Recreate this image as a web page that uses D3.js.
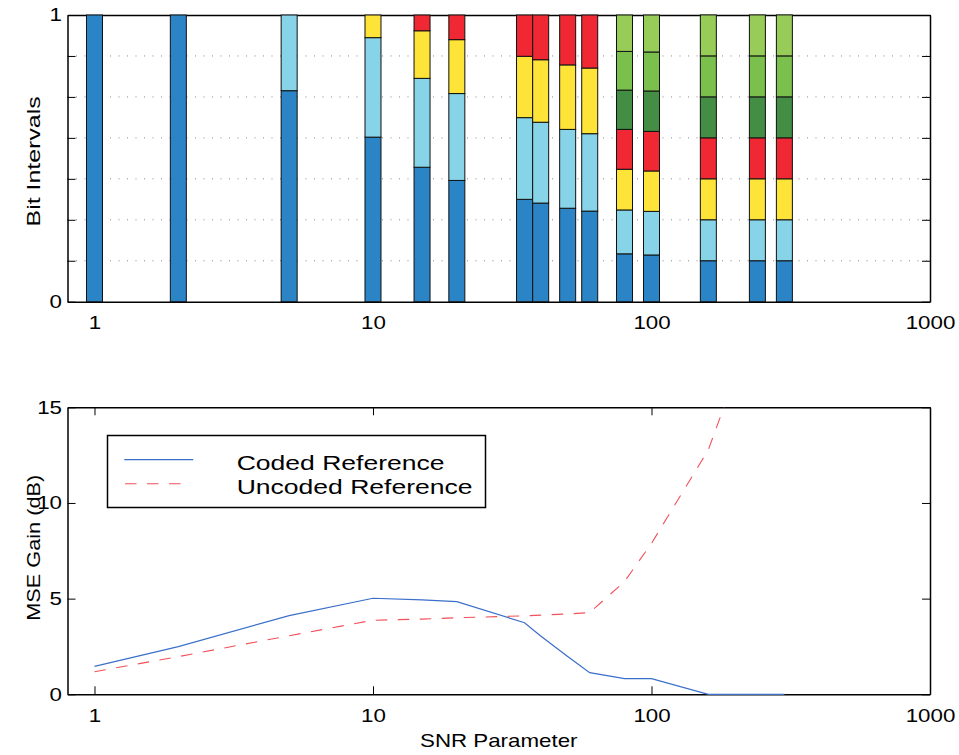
<!DOCTYPE html>
<html>
<head>
<meta charset="utf-8">
<script src="https://cdn.jsdelivr.net/npm/d3@7"></script>
<style>
body { margin: 0; background: #fff; }
svg text { font-family: "Liberation Sans", Arial, Helvetica, sans-serif; fill: #000; }
</style>
</head>
<body>
<div id="drawing"></div>
<script>
// --- top plot: bit interval shares per SNR value ---
var snr = [1, 2, 5, 10, 15, 20, 35, 40, 50, 60, 80, 100, 160, 240, 300];
var darkBlue   = [1, 1, 0.736, 0.574, 0.469, 0.423, 0.357, 0.344, 0.326, 0.316, 0.167, 0.163, 0.1429, 0.1429, 0.1429];
var lightBlue  = [0, 0, 0.264, 0.347, 0.310, 0.303, 0.285, 0.282, 0.275, 0.270, 0.153, 0.152, 0.1429, 0.1429, 0.1429];
var yellow     = [0, 0, 0, 0.079, 0.166, 0.188, 0.214, 0.218, 0.225, 0.229, 0.142, 0.141, 0.1429, 0.1429, 0.1429];
var red        = [0, 0, 0, 0, 0.055, 0.086, 0.144, 0.156, 0.174, 0.185, 0.139, 0.138, 0.1429, 0.1429, 0.1429];
var darkGreen  = [0, 0, 0, 0, 0, 0, 0, 0, 0, 0, 0.137, 0.141, 0.1429, 0.1429, 0.1429];
var midGreen   = [0, 0, 0, 0, 0, 0, 0, 0, 0, 0, 0.135, 0.136, 0.1429, 0.1429, 0.1429];
var lightGreen = [0, 0, 0, 0, 0, 0, 0, 0, 0, 0, 0.127, 0.129, 0.1429, 0.1429, 0.1429];
var intervalKeys = ["darkBlue", "lightBlue", "yellow", "red", "darkGreen", "midGreen", "lightGreen"];
var intervalColors = ["#2a84c6", "#87d4e9", "#fee338", "#ef2834", "#438d44", "#7bc04d", "#97cc59"];

// --- bottom plot: MSE gain (dB) ---
var gainSnr = [1, 2, 5, 10, 15, 20, 35, 40, 50, 60, 80, 100, 160, 240, 300];
var codedGain   = [1.46, 2.49, 4.11, 5.02, 4.93, 4.84, 3.74, 3.05, 1.98, 1.13, 0.82, 0.82, 0, 0, 0];
var uncodedGain = [1.18, 1.97, 3.06, 3.87, 3.93, 4.0, 4.1, 4.14, 4.2, 4.27, 5.89, 7.89, 12.78, 19.8, 23];
var seriesNames = ["Coded Reference", "Uncoded Reference"];

var xTickValues = [1, 10, 100, 1000];
var barYTicks = [0, 1, 2, 3, 4, 5, 6, 7].map(function (k) { return k / 7; });
var gainTicks = [0, 5, 10, 15];

var chart;
(function (chart) {
    var W = 959, H = 755;
    var left = 67.5, right = 930;
    var svg;

    function styleAxis(g, fontSize, sx) {
        g.attr("font-family", null).attr("font-size", null);
        g.select(".domain").attr("stroke", "#000").attr("stroke-width", 1.5);
        g.selectAll(".tick line").attr("stroke", "#000").attr("stroke-width", 1);
        g.selectAll(".tick text").attr("font-size", fontSize).attr("transform", "scale(" + sx + ",1)");
    }

    function drawBars(x) {
        var y = d3.scaleLinear().domain([0, 1]).range([301.7, 15]);
        var top = 15, bottom = 301.7;

        // dotted grid
        svg.append("g").selectAll("line")
            .data(barYTicks.slice(1, 7))
            .enter().append("line")
            .attr("x1", left).attr("x2", right)
            .attr("y1", function (d) { return y(d); })
            .attr("y2", function (d) { return y(d); })
            .attr("stroke", "#8a8a8a")
            .attr("stroke-width", 1)
            .attr("stroke-dasharray", "1,7.5");

        var noLabel = function () { return ""; };
        svg.append("g").attr("transform", "translate(0," + bottom + ")")
            .call(d3.axisBottom(x).tickValues(xTickValues).tickSize(-8).tickSizeOuter(0).tickPadding(13.8)
                .tickFormat(function (d) { return String(d); }))
            .call(styleAxis, 18.6, 1.2);
        svg.append("g").attr("transform", "translate(0," + top + ")")
            .call(d3.axisTop(x).tickValues(xTickValues).tickSize(-8).tickSizeOuter(0).tickFormat(noLabel))
            .call(styleAxis, 18.6, 1.2);
        svg.append("g").attr("transform", "translate(" + left + ",0)")
            .call(d3.axisLeft(y).tickValues(barYTicks).tickSize(-8).tickSizeOuter(0).tickPadding(4.6)
                .tickFormat(function (d) { return d === 0 ? "0" : (d === 1 ? "1" : ""); }))
            .call(styleAxis, 18.6, 1.2);
        svg.append("g").attr("transform", "translate(" + right + ",0)")
            .call(d3.axisRight(y).tickValues(barYTicks).tickSize(-8).tickSizeOuter(0).tickFormat(noLabel))
            .call(styleAxis, 18.6, 1.2);

        var rows = snr.map(function (s, i) {
            return {
                snr: s, darkBlue: darkBlue[i], lightBlue: lightBlue[i], yellow: yellow[i], red: red[i],
                darkGreen: darkGreen[i], midGreen: midGreen[i], lightGreen: lightGreen[i]
            };
        });
        var stacked = d3.stack().keys(intervalKeys)(rows);

        var layer = svg.append("g").selectAll("g")
            .data(stacked)
            .enter().append("g")
            .attr("fill", function (d, i) { return intervalColors[i]; });
        layer.selectAll("rect")
            .data(function (d) { return d.filter(function (p) { return p[1] - p[0] > 0; }); })
            .enter().append("rect")
            .attr("x", function (p) { return x(p.data.snr) - 8; })
            .attr("width", 16)
            .attr("y", function (p) { return y(p[1]); })
            .attr("height", function (p) { return y(p[0]) - y(p[1]); })
            .attr("stroke", "#111")
            .attr("stroke-width", 1);

        svg.append("text")
            .attr("transform", "translate(39.5," + ((top + bottom) / 2 + 3) + ") rotate(-90) scale(1.4,1)")
            .attr("text-anchor", "middle")
            .attr("font-size", 17.8)
            .text("Bit Intervals");
    }

    function drawGain(x) {
        var top = 407.3, bottom = 694.3;
        var y = d3.scaleLinear().domain([0, 15]).range([bottom, top]);

        svg.append("g").attr("transform", "translate(0," + bottom + ")")
            .call(d3.axisBottom(x).tickValues(xTickValues).tickSize(-8).tickSizeOuter(0).tickPadding(14)
                .tickFormat(function (d) { return String(d); }))
            .call(styleAxis, 18.6, 1.2);
        svg.append("g").attr("transform", "translate(0," + top + ")")
            .call(d3.axisTop(x).tickValues(xTickValues).tickSize(-8).tickSizeOuter(0).tickFormat(function () { return ""; }))
            .call(styleAxis, 18.6, 1.2);
        svg.append("g").attr("transform", "translate(" + left + ",0)")
            .call(d3.axisLeft(y).tickValues(gainTicks).tickSize(-8).tickSizeOuter(0).tickPadding(4.6))
            .call(styleAxis, 18.6, 1.2);
        svg.append("g").attr("transform", "translate(" + right + ",0)")
            .call(d3.axisRight(y).tickValues(gainTicks).tickSize(-8).tickSizeOuter(0).tickFormat(function () { return ""; }))
            .call(styleAxis, 18.6, 1.2);

        svg.append("clipPath").attr("id", "gainClip")
            .append("rect")
            .attr("x", left).attr("y", top)
            .attr("width", right - left).attr("height", bottom - top + 1.5);

        var line = d3.line()
            .x(function (d) { return x(d[0]); })
            .y(function (d) { return y(d[1]); });
        var plot = svg.append("g").attr("clip-path", "url(#gainClip)");
        plot.append("path")
            .datum(d3.zip(gainSnr, uncodedGain))
            .attr("d", line)
            .attr("fill", "none")
            .attr("stroke", "#f2505a")
            .attr("stroke-width", 1.1)
            .attr("stroke-dasharray", "11.5,10.5");
        plot.append("path")
            .datum(d3.zip(gainSnr, codedGain))
            .attr("d", line)
            .attr("fill", "none")
            .attr("stroke", "#3b6fc9")
            .attr("stroke-width", 1.2);

        // legend
        var lg = svg.append("g");
        lg.append("rect")
            .attr("x", 107.5).attr("y", 435.5)
            .attr("width", 378).attr("height", 72)
            .attr("fill", "#fff").attr("stroke", "#000").attr("stroke-width", 1.5);
        lg.append("line")
            .attr("x1", 124.3).attr("x2", 193.3).attr("y1", 459.7).attr("y2", 459.7)
            .attr("stroke", "#3b6fc9").attr("stroke-width", 1.2);
        lg.append("line")
            .attr("x1", 125).attr("x2", 182).attr("y1", 483.7).attr("y2", 483.7)
            .attr("stroke", "#f2505a").attr("stroke-width", 1.1)
            .attr("stroke-dasharray", "11.5,10.5");
        lg.selectAll("text")
            .data(seriesNames)
            .enter().append("text")
            .attr("transform", function (d, i) { return "translate(236.7," + (469.5 + i * 24) + ") scale(1.34,1)"; })
            .attr("font-size", 19.8)
            .text(function (d) { return d; });

        svg.append("text")
            .attr("transform", "translate(39.5," + ((top + bottom) / 2 - 3) + ") rotate(-90) scale(1.22,1)")
            .attr("text-anchor", "middle")
            .attr("font-size", 17.8)
            .text("MSE Gain (dB)");
        svg.append("text")
            .attr("transform", "translate(" + ((left + right) / 2) + ",746.7) scale(1.2,1)")
            .attr("text-anchor", "middle")
            .attr("font-size", 18.6)
            .text("SNR Parameter");
    }

    function main() {
        svg = d3.select("#drawing").append("svg")
            .attr("width", W).attr("height", H);
        var x = d3.scaleLog().domain([0.8, 1000]).range([left, right]);
        drawBars(x);
        drawGain(x);
    }
    chart.main = main;
})(chart || (chart = {}));
chart.main();
</script>
</body>
</html>
